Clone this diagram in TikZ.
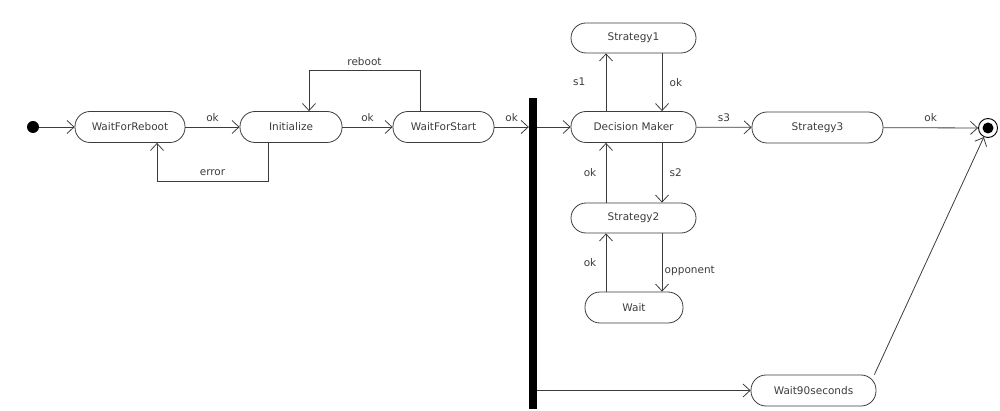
\documentclass[tikz,border=0pt]{standalone}
\usepackage{fontspec}
\setmainfont{DejaVu Sans}
\usetikzlibrary{arrows.meta,positioning}
\definecolor{linegray}{RGB}{60,60,60}

\begin{document}
\begin{tikzpicture}[
    x=1pt, y=-1pt,
    every node/.style={font=\fontsize{10.5}{12}\selectfont, text=linegray},
    state/.style={rectangle, draw=linegray, line width=0.8pt, rounded corners=15pt, minimum height=31pt, inner sep=0pt},
    lbl/.style={font=\fontsize{10.5}{12}\selectfont},
    arrow/.style={-{Straight Barb[length=7pt, width=13pt]}, line width=0.8pt, draw=linegray},
]
\useasboundingbox (0,0) rectangle (1000,411);

% --- START ---
\node[circle, fill=black, minimum size=12pt, inner sep=0pt] (start) at (33,127) {};
\node[state, minimum width=110pt] (reboot) at (130,127) {WaitForReboot};
\node[state, minimum width=102pt] (init) at (291,127) {Initialize};
\node[state, minimum width=101pt] (start_wait) at (443.5,127) {WaitForStart};

% Fork bar
\node[rectangle, fill=black, minimum width=8pt, minimum height=311pt, inner sep=0pt] (fork) at (533,253.5) {};

% --- STRATEGIES ---
\node[state, minimum width=125pt] (decide) at (633.5,127) {Decision Maker};
\node[state, minimum width=125pt, minimum height=30pt] (strat1) at (633.5,38) {Strategy1};
\node[state, minimum width=125pt, minimum height=30pt] (strat2) at (633.5,218) {Strategy2};
\node[state, minimum width=98pt] (wait) at (634,307.5) {Wait};
\node[state, minimum width=131pt] (strat3) at (817.5,127.5) {Strategy3};
\node[state, minimum width=125pt] (wait90) at (813.5,390.5) {Wait90seconds};

% End
\node[circle, draw=black, line width=0.9pt, minimum size=19pt, inner sep=0pt] (stop) at (988,128) {};
\fill (stop) circle (5.5pt);

% Main flow arrows
\draw[arrow] (start) -- (reboot);
\draw[arrow] (reboot) -- (init) node[lbl, midway, above=2pt] {ok};
\draw[arrow] ([xshift=-23pt]init.south) -- ++(0,39) -| node[lbl, pos=0.25, above=3pt] {error} ([xshift=27pt]reboot.south);
\draw[arrow] (init) -- (start_wait) node[lbl, midway, above=2pt] {ok};
\draw[arrow] ([xshift=-23.5pt]start_wait.north) -- ++(0,-41) -| node[lbl, pos=0.25, above=1pt] {reboot} ([xshift=18pt]init.north);
\draw[arrow] (start_wait) -- (start_wait -| fork.west) node[lbl, midway, above=2pt] {ok};
\draw[arrow] (decide -| fork.east) -- (decide);

% Decision loops
\draw[arrow] ([xshift=-27.5pt]decide.north) -- ([xshift=-27.5pt]strat1.south) node[lbl, midway, left=17pt] {s1};
\draw[arrow] ([xshift=28.5pt]strat1.south) -- ([xshift=28.5pt]decide.north) node[lbl, midway, right=4pt] {ok};
\draw[arrow] ([xshift=28.5pt]decide.south) -- ([xshift=28.5pt]strat2.north) node[lbl, midway, right=4pt] {s2};
\draw[arrow] ([xshift=-27.5pt]strat2.north) -- ([xshift=-27.5pt]decide.south) node[lbl, midway, left=6pt] {ok};
\draw[arrow] ([xshift=28.5pt]strat2.south) -- ([xshift=28pt]wait.north) node[lbl, pos=0.65, right=-1pt] {opponent};
\draw[arrow] ([xshift=-28pt]wait.north) -- ([xshift=-27.5pt]strat2.south) node[lbl, midway, left=6pt] {ok};
\draw[arrow] (decide) -- (strat3) node[lbl, midway, above=2pt] {s3};
\draw[arrow] (strat3) -- (stop) node[lbl, midway, above=2pt] {ok};

% Timeout branch
\draw[arrow] (wait90 -| fork.east) -- (wait90);
\draw[arrow] ([xshift=-2pt]wait90.north east) -- (stop);

\end{tikzpicture}
\end{document}
